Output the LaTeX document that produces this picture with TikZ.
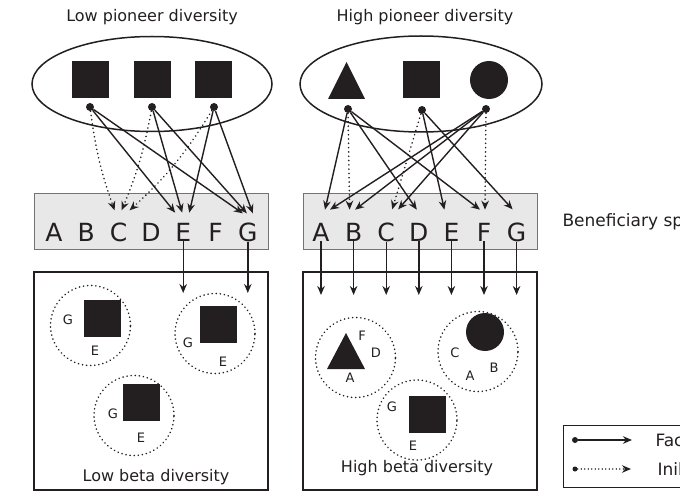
\documentclass[tikz,border=0pt]{standalone}
\usepackage{fontspec}
\setmainfont{DejaVu Sans}
\usetikzlibrary{shapes.geometric,arrows.meta,positioning}
\definecolor{pgrey}{RGB}{232,232,233}
\definecolor{pblack}{RGB}{35,31,32}

\begin{document}
\begin{tikzpicture}[x=1pt, y=-1pt,
    pool/.style={ellipse, draw=pblack, line width=1.5pt, minimum width=240pt, minimum height=95pt},
    sqsp/.style={rectangle, fill=pblack, minimum size=37pt, inner sep=0pt},
    root/.style={circle, fill=pblack, minimum size=8pt, inner sep=0pt},
    benbox/.style={rectangle, draw=black!55, fill=pgrey, line width=1pt, minimum width=234pt, minimum height=56pt},
    commbox/.style={rectangle, draw=pblack, line width=1.5pt, minimum width=234pt, minimum height=218pt},
    benletter/.style={inner sep=0pt, font=\fontsize{25}{25}\selectfont, text=pblack},
    title/.style={font=\fontsize{16}{19}\selectfont, text=pblack},
    tag/.style={inner sep=0pt, font=\fontsize{13}{13}\selectfont, text=pblack},
    patch/.style={circle, draw=pblack, line width=1.7pt, dash pattern=on 0.1pt off 4pt, line cap=round, minimum size=80pt, inner sep=0pt},
    arrow_fac/.style={-{Stealth[length=9pt,width=7.5pt]}, line width=1.4pt, draw=pblack},
    arrow_inib/.style={arrow_fac, line width=1.7pt, dash pattern=on 0.1pt off 4.2pt, line cap=round},
  ]
\useasboundingbox (0,0) rectangle (680,500);

% titles and pioneer pools
\node[title] (ltitle) at (152,17) {Low pioneer diversity};
\node[title] (htitle) at (425,17) {High pioneer diversity};
\node[pool] (lpool) at (152,84) {};
\node[pool, minimum width=242pt, minimum height=96pt] (hpool) at (421,84) {};

\node[sqsp] (lsq1) at (90.5,80) {};
\node[sqsp] (lsq2) at (152,80) {};
\node[sqsp] (lsq3) at (213.5,80) {};
\fill[pblack] (328,99) -- (346.5,62) -- (365,99) -- cycle;
\node[sqsp] (hsq) at (421,80) {};
\node[circle, fill=pblack, minimum size=38pt, inner sep=0pt] (hci) at (489,80) {};

\node[root] (lp1) at (90,107) {};
\node[root] (lp2) at (152,107) {};
\node[root] (lp3) at (214,107) {};
\node[root] (hp1) at (348,109) {};
\node[root] (hp2) at (422,110) {};
\node[root] (hp3) at (486,109) {};

% beneficiary species
\node[benbox] (lben) at (151,221) {};
\node[benbox] (hben) at (420,221) {};
\foreach \l [count=\i from 0] in {A,B,C,D,E,F,G} {
  \node[benletter] (lb\l) at (54+32.3*\i,232) {\l};
  \node[benletter] (hb\l) at (321+32.6*\i,232) {\l};
}
\node[title, font=\fontsize{17}{20}\selectfont, anchor=west] (bentext) at (559,222) {Beneficiary species};

% communities
\node[commbox] (lcomm) at (151,381) {};
\node[commbox] (hcomm) at (420,381) {};
\coordinate (ltip) at (0,293);
\coordinate (htip) at (0,295);

% low pioneer diversity links
\draw[arrow_inib] (lp1) to[bend right=6] ([xshift=-4pt,yshift=12pt]lbC.north);
\draw[arrow_inib] (lp2) to[bend left=6] ([xshift=3pt,yshift=12pt]lbC.north);
\draw[arrow_inib] (lp3) to[bend left=8] ([xshift=11pt,yshift=12pt]lbC.north);
\draw[arrow_fac] (lp1) -- ([xshift=-8pt,yshift=10pt]lbE.north);
\draw[arrow_fac] (lp2) -- ([xshift=-1pt,yshift=10pt]lbE.north);
\draw[arrow_fac] (lp3) -- ([xshift=6pt,yshift=10pt]lbE.north);
\draw[arrow_fac] (lp1) -- ([xshift=-5pt,yshift=9pt]lbG.north);
\draw[arrow_fac] (lp2) -- ([xshift=-1pt,yshift=9pt]lbG.north);
\draw[arrow_fac] (lp3) -- ([xshift=5pt,yshift=9pt]lbG.north);

% high pioneer diversity links
\draw[arrow_fac] (hp1) -- ([xshift=4pt,yshift=13pt]hbA.north);
\draw[arrow_inib] (hp1) -- ([xshift=-4pt,yshift=13pt]hbB.north);
\draw[arrow_fac] (hp1) -- ([xshift=-2pt,yshift=13pt]hbD.north);
\draw[arrow_fac] (hp1) -- ([xshift=-4pt,yshift=13pt]hbF.north);
\draw[arrow_inib] (hp2) -- ([xshift=6pt,yshift=13pt]hbC.north);
\draw[arrow_fac] (hp2) -- ([xshift=-7pt,yshift=13pt]hbE.north);
\draw[arrow_fac] (hp2) -- ([xshift=-4pt,yshift=13pt]hbG.north);
\draw[arrow_fac] (hp3) -- ([xshift=9pt,yshift=13pt]hbA.north);
\draw[arrow_fac] (hp3) -- ([xshift=1.5pt,yshift=13pt]hbB.north);
\draw[arrow_fac] (hp3) -- ([xshift=12pt,yshift=13pt]hbC.north);
\draw[arrow_inib] (hp3) -- ([xshift=1pt,yshift=13pt]hbF.north);

% colonisation of communities
\draw[arrow_fac] (lbE.south) -- (lbE.south |- ltip);
\draw[arrow_fac] (lbG.south) -- (lbG.south |- ltip);
\foreach \l in {A,B,C,D,E,F,G}
  \draw[arrow_fac] (hb\l.south) -- (hb\l.south |- htip);

% low beta diversity patches
\node[patch] (lpa1) at (90.5,325.5) {};
\node[sqsp] (lpsq1) at (102,318) {};
\node[tag] at (68,320) {G};
\node[tag] at (95,351) {E};
\node[patch] (lpa2) at (215,333.5) {};
\node[sqsp] (lpsq2) at (218,324.5) {};
\node[tag] at (188,343) {G};
\node[tag] at (223,362) {E};
\node[patch] (lpa3) at (134,415.5) {};
\node[sqsp] (lpsq3) at (141,402) {};
\node[tag] at (113,414) {G};
\node[tag] at (141,438) {E};
\node[title] (lbeta) at (156,477) {Low beta diversity};

% high beta diversity patches
\node[patch] (hpa1) at (355.5,357.5) {};
\fill[pblack] (327,369) -- (346,333) -- (365,369) -- cycle;
\node[tag] at (362,336) {F};
\node[tag] at (376,353) {D};
\node[tag] at (350,378) {A};
\node[patch] (hpa2) at (478,351.5) {};
\node[circle, fill=pblack, minimum size=38pt, inner sep=0pt] (hpci) at (485,332) {};
\node[tag] at (455,353) {C};
\node[tag] at (470,376) {A};
\node[tag] at (494,368) {B};
\node[patch] (hpa3) at (417,420) {};
\node[sqsp] (hpsq) at (427,414.5) {};
\node[tag] at (392,407) {G};
\node[tag] at (413,446) {E};
\node[title] (hbeta) at (417,468) {High beta diversity};

% legend
\draw[pblack, line width=1pt] (563,425) rectangle (700,487);
\node[root, minimum size=6pt] (kfac) at (575,440) {};
\node[root, minimum size=5pt] (kinib) at (575,469) {};
\coordinate (kfacend) at (632,440);
\coordinate (kinibend) at (631,469);
\draw[arrow_fac] (kfac) -- (kfacend);
\draw[arrow_inib, line width=1.2pt, dash pattern=on 0.1pt off 3.4pt] (kinib) -- (kinibend);
\node[title, font=\fontsize{17}{20}\selectfont, anchor=west] (kfactext) at (652,440) {Facilitation};
\node[title, font=\fontsize{17}{20}\selectfont, anchor=west] (kinibtext) at (654,469) {Inibition};

\end{tikzpicture}
\end{document}
